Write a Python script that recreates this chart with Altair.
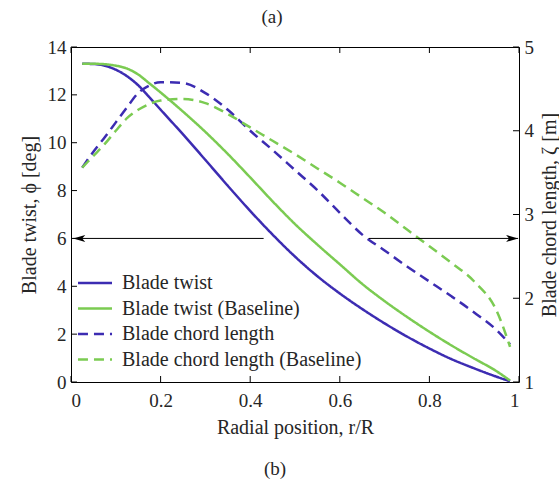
import altair as alt
import pandas as pd

# ---- data ----
r = [0.025, 0.05, 0.075, 0.1, 0.125, 0.15, 0.175, 0.2, 0.25, 0.3, 0.35, 0.4,
     0.45, 0.5, 0.55, 0.6, 0.65, 0.7, 0.75, 0.8, 0.85, 0.9, 0.95, 0.98]
twist = [13.30, 13.29, 13.22, 13.05, 12.78, 12.40, 11.90, 11.38, 10.35, 9.28,
         8.20, 7.15, 6.16, 5.24, 4.42, 3.70, 3.05, 2.45, 1.90, 1.40, 0.95, 0.57,
         0.22, 0.03]
twist_base = [13.30, 13.30, 13.28, 13.22, 13.10, 12.85, 12.48, 12.10, 11.30, 10.45,
              9.53, 8.55, 7.55, 6.60, 5.74, 4.92, 4.10, 3.38, 2.72, 2.10, 1.52, 0.98,
              0.45, 0.06]
chord = [3.56, 3.75, 3.92, 4.10, 4.28, 4.45, 4.54, 4.58, 4.57, 4.45, 4.25, 4.00,
         3.77, 3.53, 3.29, 3.02, 2.76, 2.57, 2.38, 2.20, 2.02, 1.83, 1.62, 1.45]
chord_base = [3.56, 3.70, 3.84, 4.00, 4.15, 4.25, 4.32, 4.36, 4.38, 4.33, 4.20, 4.04,
              3.88, 3.72, 3.55, 3.38, 3.20, 3.02, 2.82, 2.62, 2.42, 2.20, 1.85, 1.42]

series = ["Blade twist", "Blade twist (Baseline)",
          "Blade chord length", "Blade chord length (Baseline)"]

x_ticks = [0, 0.2, 0.4, 0.6, 0.8, 1]
left_ticks = [0, 2, 4, 6, 8, 10, 12, 14]
right_ticks = [1, 2, 3, 4, 5]

arrow_y = 6
arrow_left = [0.43, 0.005]    # from -> tip
arrow_right = [0.665, 0.998]  # from -> tip

captions_top = ["(a)"]
captions_bottom = ["(b)"]

# ---- styling ----
BLUE = "#3C2CB2"
GREEN = "#7BCB52"
FONT = "Liberation Serif"
TXT = "#262626"
W, H = 448, 335

n = len(r)
df_t = pd.DataFrame({"r": r * 2, "v": twist + twist_base,
                     "s": [series[0]] * n + [series[1]] * n})
df_c = pd.DataFrame({"r": r * 2, "v": chord + chord_base,
                     "s": [series[2]] * n + [series[3]] * n})

xscale = alt.Scale(domain=[0, 1], nice=False)
lscale = alt.Scale(domain=[0, 14], nice=False)
rscale = alt.Scale(domain=[1, 5], nice=False)

legend = alt.Legend(title=None, orient="none", legendX=14, legendY=226,
                    symbolType="M-2,0H2", symbolSize=290, symbolStrokeWidth=2.5,
                    labelFont=FONT, labelFontSize=20, labelColor=TXT,
                    labelOffset=17, rowPadding=5.5, labelLimit=400)
color = alt.Color("s:N", scale=alt.Scale(domain=series, range=[BLUE, GREEN, BLUE, GREEN]),
                  legend=legend)
dash = alt.StrokeDash("s:N", scale=alt.Scale(domain=series,
                      range=[[1, 0], [1, 0], [10, 6], [10, 6]]), legend=legend)

axis_font = dict(labelFont=FONT, titleFont=FONT, labelFontSize=19, titleFontSize=20,
                 labelColor=TXT, titleColor=TXT, titleFontWeight="normal")

x_axis = alt.Axis(values=x_ticks, format="~g", ticks=False, domain=False, grid=False,
                  labelPadding=9, title="Radial position, r/R", titlePadding=7,
                  **axis_font)

twist_layer = alt.Chart(df_t).mark_line(strokeWidth=2.5, interpolate="monotone").encode(
    x=alt.X("r:Q", scale=xscale, axis=x_axis),
    y=alt.Y("v:Q", scale=lscale,
            axis=alt.Axis(orient="left", values=left_ticks, ticks=False, domain=False,
                          grid=False, labelPadding=5, title="Blade twist, ϕ [deg]",
                          titlePadding=8, **axis_font)),
    color=color, strokeDash=dash)

chord_layer = alt.Chart(df_c).mark_line(strokeWidth=2.5, interpolate="monotone").encode(
    x=alt.X("r:Q", scale=xscale, axis=x_axis),
    y=alt.Y("v:Q", scale=rscale,
            axis=alt.Axis(orient="right", values=right_ticks, ticks=False, domain=False,
                          grid=False, labelPadding=5, title="Blade chord length, ζ [m]",
                          titleAngle=270, titleBaseline="top", titlePadding=6,
                          **axis_font)),
    color=color, strokeDash=dash)

# inward tick marks (box style)
dfx = pd.DataFrame({"t": x_ticks})
dfl = pd.DataFrame({"t": left_ticks})
dfr = pd.DataFrame({"t": right_ticks})
tick_style = dict(color="black", strokeWidth=1)
bottom_ticks = alt.Chart(dfx).mark_rule(**tick_style).encode(
    x=alt.X("t:Q", scale=xscale, axis=x_axis), y=alt.value(H), y2=alt.value(H - 6))
top_ticks = alt.Chart(dfx).mark_rule(**tick_style).encode(
    x=alt.X("t:Q", scale=xscale, axis=x_axis), y=alt.value(0), y2=alt.value(6))
left_tk = alt.Chart(dfl).mark_rule(**tick_style).encode(
    y=alt.Y("t:Q", scale=lscale, axis=None), x=alt.value(0), x2=alt.value(6))
right_tk = alt.Chart(dfr).mark_rule(**tick_style).encode(
    y=alt.Y("t:Q", scale=rscale, axis=None), x=alt.value(W), x2=alt.value(W - 6))

# arrows
dfa = pd.DataFrame({"x1": [arrow_left[0], arrow_right[0]],
                    "x2": [arrow_left[1], arrow_right[1]],
                    "y": [arrow_y, arrow_y]})
arrow_lines = alt.Chart(dfa).mark_rule(color="black", strokeWidth=1).encode(
    x=alt.X("x1:Q", scale=xscale, axis=x_axis), x2="x2:Q",
    y=alt.Y("y:Q", scale=lscale, axis=None))
dfh_l = pd.DataFrame({"x": [arrow_left[1]], "y": [arrow_y]})
dfh_r = pd.DataFrame({"x": [arrow_right[1]], "y": [arrow_y]})
head_l = alt.Chart(dfh_l).mark_point(shape="M0,0L2.4,-0.7L1.8,0L2.4,0.7Z", size=100,
                                     filled=True, color="black", opacity=1).encode(
    x=alt.X("x:Q", scale=xscale, axis=x_axis), y=alt.Y("y:Q", scale=lscale, axis=None))
head_r = alt.Chart(dfh_r).mark_point(shape="M0,0L-2.4,-0.7L-1.8,0L-2.4,0.7Z", size=100,
                                     filled=True, color="black", opacity=1).encode(
    x=alt.X("x:Q", scale=xscale, axis=x_axis), y=alt.Y("y:Q", scale=lscale, axis=None))

cap_a = alt.Chart(pd.DataFrame({"c": captions_top})).mark_text(
    font=FONT, fontSize=19, color=TXT, baseline="middle").encode(
    text="c:N", x=alt.value(201), y=alt.value(-30))
cap_b = alt.Chart(pd.DataFrame({"c": captions_bottom})).mark_text(
    font=FONT, fontSize=19, color=TXT, baseline="middle").encode(
    text="c:N", x=alt.value(204), y=alt.value(H + 87))

chart = alt.layer(
    twist_layer, chord_layer, bottom_ticks, top_ticks, left_tk, right_tk,
    arrow_lines, head_l, head_r, cap_a, cap_b
).resolve_scale(y="independent").properties(
    width=W, height=H,
    autosize=alt.AutoSizeParams(type="none"),
    padding={"left": 71, "top": 47, "right": 40, "bottom": 99},
    background="white",
).configure_view(stroke="black", strokeWidth=1)

chart.save("out.html", embed_options={"renderer": "svg", "actions": False})
